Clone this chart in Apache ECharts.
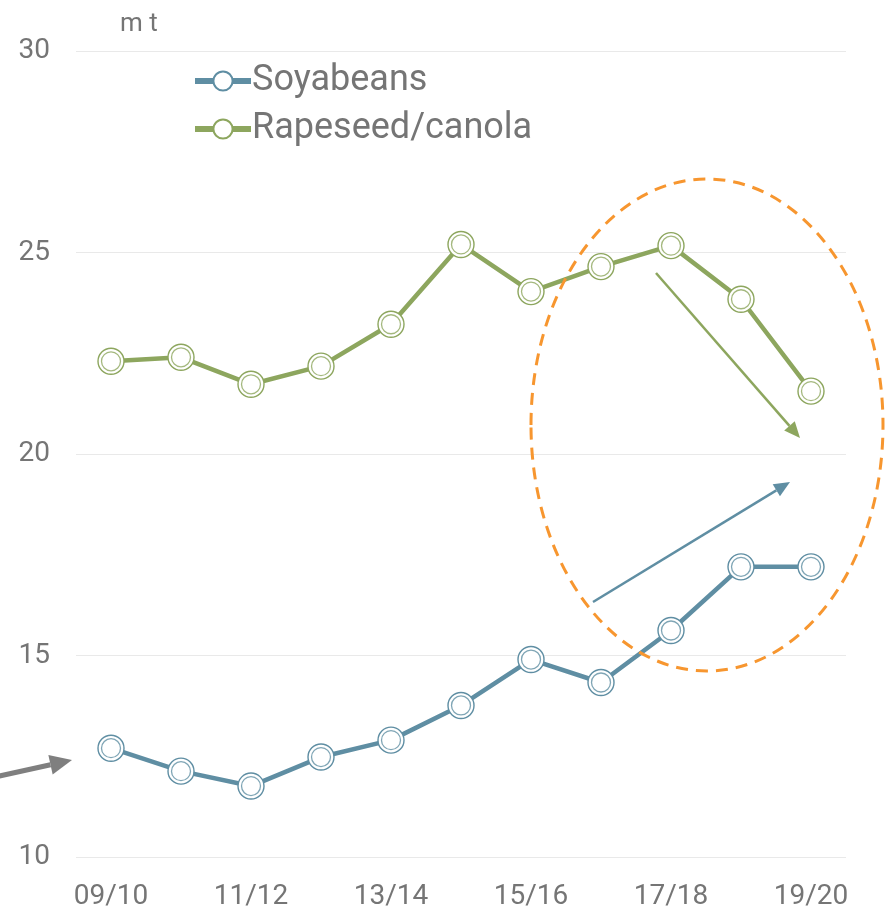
<!DOCTYPE html>
<html>
<head>
<meta charset="utf-8">
<script src="https://cdn.jsdelivr.net/npm/echarts@6/dist/echarts.min.js"></script>
<style>html,body{margin:0;padding:0;background:#fff}#chart{width:891px;height:911px}</style>
</head>
<body>
<div id="chart"></div>
<script>
var years = ['09/10', '10/11', '11/12', '12/13', '13/14', '14/15', '15/16', '16/17', '17/18', '18/19', '19/20'];
var soyabeans = [12.7, 12.13, 11.76, 12.48, 12.9, 13.76, 14.9, 14.33, 15.62, 17.2, 17.2];
var rapeseed = [22.3, 22.4, 21.73, 22.18, 23.22, 25.2, 24.03, 24.65, 25.17, 23.84, 21.56];
var yTicks = [10, 15, 20, 25, 30];

var soyColor = '#5f8ea3';
var rapeColor = '#8da65e';
var textColor = '#757575';

// arrow = line + triangle head
function arrow(x1, y1, x2, y2, color, width, headLen, headW) {
    var dx = x2 - x1, dy = y2 - y1;
    var len = Math.sqrt(dx * dx + dy * dy);
    var ux = dx / len, uy = dy / len;
    var bx = x2 - ux * headLen, by = y2 - uy * headLen;
    return [
        {type: 'line', shape: {x1: x1, y1: y1, x2: bx, y2: by}, style: {stroke: color, lineWidth: width}, z: 10},
        {type: 'polygon', shape: {points: [[x2, y2], [bx - uy * headW, by + ux * headW], [bx + uy * headW, by - ux * headW]]},
            style: {fill: color}, z: 10}
    ];
}

function mainSeries(name, data, color) {
    return {
        name: name,
        type: 'line',
        data: data,
        symbol: 'circle',
        symbolSize: 26,
        lineStyle: {color: color, width: 4.5},
        itemStyle: {color: '#fff', borderColor: color, borderWidth: 1.4},
        z: 3
    };
}

function innerRing(data, color) {
    return {
        type: 'scatter',
        data: data,
        symbol: 'circle',
        symbolSize: 19,
        silent: true,
        itemStyle: {color: 'rgba(0,0,0,0)', borderColor: color, borderWidth: 1.3},
        z: 4
    };
}

var myChart = echarts.init(document.getElementById('chart'));

var graphics = [
    {type: 'text', left: 120, top: 11, style: {text: 'm t', fill: textColor, font: '26px Roboto'}},
    {type: 'ellipse', shape: {cx: 707, cy: 425, rx: 176, ry: 246},
        style: {fill: 'none', stroke: '#f7962f', lineWidth: 3, lineDash: [12, 8]}, z: 10}
];
graphics = graphics.concat(arrow(656, 273, 800, 438, rapeColor, 2.5, 16, 7));
graphics = graphics.concat(arrow(593, 602, 790, 482, soyColor, 2.5, 16, 7));
graphics = graphics.concat(arrow(-5, 777, 72, 760, '#7f7f7f', 5, 22, 10));

var option = {
    animation: false,
    backgroundColor: '#fff',
    grid: {left: 76, right: 45, top: 51, bottom: 52},
    legend: {
        orient: 'vertical',
        left: 187,
        top: 58,
        itemWidth: 56,
        itemHeight: 24,
        itemGap: 12,
        data: ['Soyabeans', 'Rapeseed/canola'],
        lineStyle: {width: 6},
        textStyle: {color: textColor, fontSize: 36, fontFamily: 'Roboto', padding: [0, 0, 0, -4]}
    },
    xAxis: {
        type: 'category',
        data: years,
        boundaryGap: true,
        axisLine: {show: false},
        axisTick: {show: false},
        axisLabel: {interval: 1, color: textColor, fontSize: 28, fontFamily: 'Roboto', margin: 26}
    },
    yAxis: {
        type: 'value',
        min: yTicks[0],
        max: yTicks[yTicks.length - 1],
        interval: 5,
        axisLabel: {color: textColor, fontSize: 28, fontFamily: 'Roboto', margin: 26},
        splitLine: {lineStyle: {color: '#e9e9e9', width: 1}}
    },
    series: [
        mainSeries('Soyabeans', soyabeans, soyColor),
        mainSeries('Rapeseed/canola', rapeseed, rapeColor),
        innerRing(soyabeans, soyColor),
        innerRing(rapeseed, rapeColor)
    ],
    graphic: graphics
};

myChart.setOption(option);
</script>
</body>
</html>
